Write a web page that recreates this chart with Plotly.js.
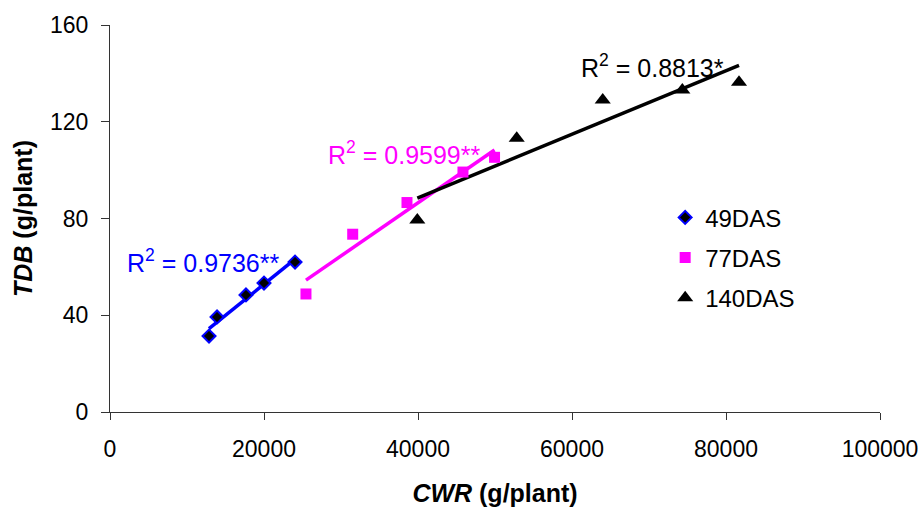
<!DOCTYPE html>
<html>
<head>
<meta charset="utf-8">
<script src="https://cdn.plot.ly/plotly-3.0.1.min.js"></script>
<style>
  html, body { margin: 0; padding: 0; background: #fff; }
  #chart { width: 919px; height: 513px; }
</style>
</head>
<body>
<div id="chart"></div>
<script>
// ---- Data ----
const seriesNames = ["49DAS", "77DAS", "140DAS"];
const cwr49 = [12860, 13900, 17660, 20000, 24030];
const tdb49 = [31.4, 39.3, 48.4, 53.3, 62.0];
const cwr77 = [25450, 31520, 38570, 45840, 49940];
const tdb77 = [48.8, 73.5, 86.6, 99.2, 105.3];
const cwr140 = [39910, 52820, 63990, 74330, 81690];
const tdb140 = [79.4, 113.2, 129.0, 133.1, 136.3];
const r2Labels = ["R<sup>2</sup> = 0.9736**", "R<sup>2</sup> = 0.9599**", "R<sup>2</sup> = 0.8813*"];
const xTickVals = [0, 20000, 40000, 60000, 80000, 100000];
const yTickVals = [0, 40, 80, 120, 160];

// least-squares trendline over the data range
function trend(xs, ys) {
  const n = xs.length;
  const mx = xs.reduce((a, b) => a + b, 0) / n;
  const my = ys.reduce((a, b) => a + b, 0) / n;
  let sxy = 0, sxx = 0;
  for (let i = 0; i < n; i++) { sxy += (xs[i] - mx) * (ys[i] - my); sxx += (xs[i] - mx) ** 2; }
  const b = sxy / sxx, a = my - b * mx;
  const x0 = Math.min(...xs), x1 = Math.max(...xs);
  return { x: [x0, x1], y: [a + b * x0, a + b * x1] };
}

const blue = "#0000FF", magenta = "#FF00FF", black = "#000000";
const FONT = "Arial, 'Liberation Sans', sans-serif";

const t49 = trend(cwr49, tdb49), t77 = trend(cwr77, tdb77), t140 = trend(cwr140, tdb140);

const traces = [
  { x: t49.x, y: t49.y, mode: "lines", line: { color: blue, width: 3.5 }, showlegend: false, hoverinfo: "skip" },
  { x: t77.x, y: t77.y, mode: "lines", line: { color: magenta, width: 3.5 }, showlegend: false, hoverinfo: "skip" },
  { x: t140.x, y: t140.y, mode: "lines", line: { color: black, width: 3.5 }, showlegend: false, hoverinfo: "skip" },
  { x: cwr49, y: tdb49, name: seriesNames[0], mode: "markers", legendgroup: "a",
    marker: { symbol: "diamond", size: 10, color: black, line: { color: blue, width: 2 } } },
  { x: cwr77, y: tdb77, name: seriesNames[1], mode: "markers", legendgroup: "b",
    marker: { symbol: "square", size: 11, color: magenta } },
  { x: cwr140, y: tdb140, name: seriesNames[2], mode: "markers", legendgroup: "c",
    marker: { symbol: "triangle-up", size: 14, color: black } }
];

const layout = {
  width: 919, height: 513,
  margin: { l: 110, r: 39, t: 25, b: 101 },
  paper_bgcolor: "#fff", plot_bgcolor: "#fff",
  font: { family: FONT, color: "#000" },
  showlegend: true,
  legend: {
    x: 0.721, y: 0.56, xanchor: "left", yanchor: "top",
    bgcolor: "rgba(0,0,0,0)", borderwidth: 0,
    traceorder: "grouped", tracegroupgap: 6,
    font: { family: FONT, size: 24, color: "#000" }
  },
  xaxis: {
    range: [0, 100000], tickvals: xTickVals, tickformat: "d",
    showgrid: false, zeroline: false, showline: true, linecolor: "#333", linewidth: 1,
    ticks: "outside", ticklen: 7, tickcolor: "#333", tickwidth: 1, ticklabelstandoff: 9,
    tickfont: { family: FONT, size: 23, color: "#000" },
    title: { text: "<b><i>CWR</i> (g/plant)</b>", font: { family: FONT, size: 25, color: "#000" }, standoff: 23 }
  },
  yaxis: {
    range: [0, 160], tickvals: yTickVals,
    showgrid: false, zeroline: false, showline: true, linecolor: "#333", linewidth: 1,
    ticks: "outside", ticklen: 8, tickcolor: "#333", tickwidth: 1, ticklabelstandoff: 8,
    tickfont: { family: FONT, size: 23, color: "#000" },
    title: { text: "<b><i>TDB</i> (g/plant)</b>", font: { family: FONT, size: 25, color: "#000" }, standoff: 10 }
  },
  annotations: [
    { x: 1900, y: 62.4, xref: "x", yref: "y", text: r2Labels[0], showarrow: false, xanchor: "left", yanchor: "middle",
      font: { family: FONT, size: 25, color: blue } },
    { x: 28000, y: 107.1, xref: "x", yref: "y", text: r2Labels[1], showarrow: false, xanchor: "left", yanchor: "middle",
      font: { family: FONT, size: 25, color: magenta } },
    { x: 60900, y: 143.2, xref: "x", yref: "y", text: r2Labels[2], showarrow: false, xanchor: "left", yanchor: "middle",
      font: { family: FONT, size: 25, color: black } }
  ]
};

Plotly.newPlot("chart", traces, layout, { staticPlot: true, displayModeBar: false });
</script>
</body>
</html>
